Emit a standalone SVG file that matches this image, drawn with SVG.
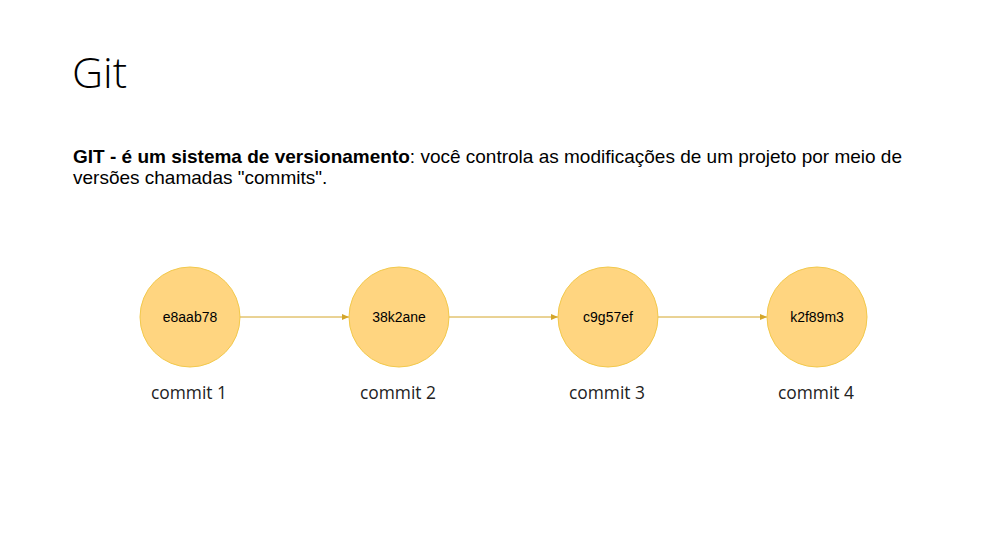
<svg xmlns="http://www.w3.org/2000/svg" width="1004" height="557" viewBox="0 0 1004 557">
<style>
.node circle{fill:#FFD580;stroke:#F2C94C;stroke-width:1}
.hash{font-family:"Liberation Sans",Arial,sans-serif;font-size:14px;fill:#000;text-anchor:middle}
.lbl{font-family:"Open Sans",sans-serif;font-size:17.4px;fill:#222;text-anchor:middle}
.conn line{stroke:#D4A62A;stroke-width:1}
.p{font-family:"Liberation Sans",Arial,sans-serif;font-size:19px;fill:#000}
</style>
<defs>
<marker id="ah" markerWidth="8" markerHeight="8" refX="7" refY="4" orient="auto" markerUnits="userSpaceOnUse">
<path d="M0,1 L7,4 L0,7 Z" fill="#D4A62A"/>
</marker>
</defs>
<rect width="1004" height="557" fill="#fff"/>
<text x="72" y="88" font-family="Open Sans, sans-serif" font-size="43" font-weight="300" fill="#000">Git</text>
<text class="p" x="73" y="163"><tspan font-weight="bold">GIT - é um sistema de versionamento</tspan>: você controla as modificações de um projeto por meio de</text>
<text class="p" x="73" y="184">versões chamadas "commits".</text>
<g class="conn">
<line x1="240" y1="317" x2="349" y2="317" marker-end="url(#ah)"/>
<line x1="449" y1="317" x2="558" y2="317" marker-end="url(#ah)"/>
<line x1="658" y1="317" x2="767" y2="317" marker-end="url(#ah)"/>
</g>
<g id="c1" class="node"><circle cx="190" cy="317" r="50"/><text class="hash" x="190" y="322">e8aab78</text><text class="lbl" x="189" y="399">commit 1</text></g>
<g id="c2" class="node"><circle cx="399" cy="317" r="50"/><text class="hash" x="399" y="322">38k2ane</text><text class="lbl" x="398" y="399">commit 2</text></g>
<g id="c3" class="node"><circle cx="608" cy="317" r="50"/><text class="hash" x="608" y="322">c9g57ef</text><text class="lbl" x="607" y="399">commit 3</text></g>
<g id="c4" class="node"><circle cx="817" cy="317" r="50"/><text class="hash" x="817" y="322">k2f89m3</text><text class="lbl" x="816" y="399">commit 4</text></g>
</svg>
